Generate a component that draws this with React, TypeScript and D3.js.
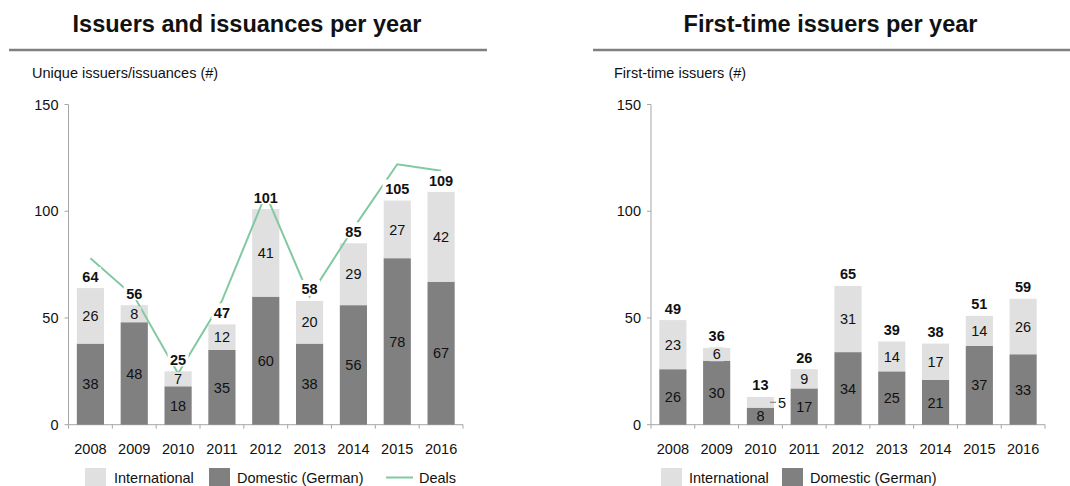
import React from 'react';
import * as d3 from 'd3';

const years = ['2008', '2009', '2010', '2011', '2012', '2013', '2014', '2015', '2016'];
const issuersDomestic = [38, 48, 18, 35, 60, 38, 56, 78, 67];
const issuersInternational = [26, 8, 7, 12, 41, 20, 29, 27, 42];
const deals = [78, 60, 24, 58, 108, 60, 92, 122, 119];
const firstDomestic = [26, 30, 8, 17, 34, 25, 21, 37, 33];
const firstInternational = [23, 6, 5, 9, 31, 14, 17, 14, 26];
const yTicks = [0, 50, 100, 150];

const FONT = '"Liberation Sans", Arial, Helvetica, sans-serif';
const LIGHT = '#e0e0e0';
const DARK = '#808080';
const GREEN = '#82c9a2';
const AXIS = '#a6a6a6';
const TEXT = '#111';

type PanelProps = {
  x0: number;
  x1: number;
  domestic: number[];
  international: number[];
  line?: number[];
};

function Panel({ x0, x1, domestic, international, line }: PanelProps) {
  const x = d3.scaleBand<string>().domain(years).range([x0, x1]).paddingInner(0.38).paddingOuter(0.19);
  const y = d3.scaleLinear().domain([0, 150]).range([424.7, 104.5]);
  const step = x.step();
  const bw = x.bandwidth();
  const cx = (i: number) => (x(years[i]) as number) + bw / 2;
  const lineGen = d3
    .line<number>()
    .x((_, i) => cx(i))
    .y((d) => y(d));

  return (
    <g fontFamily={FONT}>
      {/* axes */}
      <line x1={x0} x2={x0} y1={y(0)} y2={y(150)} stroke={AXIS} strokeWidth={1} />
      {yTicks.map((t) => (
        <g key={t}>
          <line x1={x0 - 4} x2={x0} y1={y(t)} y2={y(t)} stroke={AXIS} />
          <text x={x0 - 10} y={y(t)} dy="0.36em" textAnchor="end" fontSize={14.5} fill={TEXT}>
            {t}
          </text>
        </g>
      ))}
      <line x1={x0} x2={x1} y1={y(0)} y2={y(0)} stroke={AXIS} />
      {d3.range(years.length + 1).map((i) => (
        <line key={i} x1={x0 + i * step} x2={x0 + i * step} y1={y(0)} y2={y(0) + 4} stroke={AXIS} />
      ))}
      {years.map((yr, i) => (
        <text key={yr} x={cx(i)} y={453.5} textAnchor="middle" fontSize={14.5} fill={TEXT}>
          {yr}
        </text>
      ))}
      {/* bars */}
      {years.map((yr, i) => {
        const d = domestic[i];
        const t = d + international[i];
        return (
          <g key={yr}>
            <rect x={x(yr)} width={bw} y={y(d)} height={y(0) - y(d)} fill={DARK} />
            <rect x={x(yr)} width={bw} y={y(t)} height={y(d) - y(t)} fill={LIGHT} />
          </g>
        );
      })}
      {line && <path d={lineGen(line) || ''} fill="none" stroke={GREEN} strokeWidth={2} />}
      {/* segment labels */}
      {years.map((yr, i) => {
        const d = domestic[i];
        const n = international[i];
        const t = d + n;
        const my = (y(d) + y(t)) / 2;
        const small = n <= 5;
        return (
          <g key={yr} fontSize={14.5} fill={TEXT}>
            <text x={cx(i)} y={(y(0) + y(d)) / 2} dy="0.36em" textAnchor="middle">
              {d}
            </text>
            {small ? (
              <g>
                <line x1={x(yr)! + bw - 4} x2={x(yr)! + bw + 2} y1={my} y2={my} stroke="#777" />
                <text x={x(yr)! + bw + 4} y={my} dy="0.36em" textAnchor="start">
                  {n}
                </text>
              </g>
            ) : (
              <g>
                <rect x={cx(i) - 7} y={my - 7} width={14} height={14} fill={LIGHT} />
                <text x={cx(i)} y={my} dy="0.36em" textAnchor="middle">
                  {n}
                </text>
              </g>
            )}
            <rect
              x={cx(i) - (String(t).length * 8.5) / 2 - 2}
              y={y(t) - 21}
              width={String(t).length * 8.5 + 4}
              height={16}
              fill="#fff"
            />
            <text x={cx(i)} y={y(t) - 6.5} textAnchor="middle" fontWeight="bold">
              {t}
            </text>
          </g>
        );
      })}
    </g>
  );
}

export default function App() {
  return (
    <svg
      width={1070}
      height={486}
      style={{ position: 'absolute', left: 0, top: 0, background: '#fff' }}
      fontFamily={FONT}
    >
      <rect width={1070} height={486} fill="#fff" />
      {/* Left panel header */}
      <text x={247} y={31.5} textAnchor="middle" fontSize={23.5} fontWeight="bold" fill={TEXT}>
        Issuers and issuances per year
      </text>
      <line x1={9} x2={487} y1={50} y2={50} stroke="#808080" strokeWidth={2.5} />
      <text x={32} y={77.5} fontSize={14.5} fill={TEXT}>
        Unique issuers/issuances (#)
      </text>
      <Panel x0={68.5} x1={463} domestic={issuersDomestic} international={issuersInternational} line={deals} />
      {/* Left legend */}
      <rect x={85} y={468} width={21} height={21} fill={LIGHT} />
      <text x={114} y={483} fontSize={14.5} fill={TEXT}>International</text>
      <rect x={209} y={468} width={21} height={21} fill={DARK} />
      <text x={237} y={483} fontSize={14.5} fill={TEXT}>Domestic (German)</text>
      <line x1={386} x2={413} y1={477.5} y2={477.5} stroke={GREEN} strokeWidth={2} />
      <text x={419} y={483} fontSize={14.5} fill={TEXT}>Deals</text>

      {/* Right panel header */}
      <text x={830.5} y={31.5} textAnchor="middle" fontSize={23.5} fontWeight="bold" fill={TEXT}>
        First-time issuers per year
      </text>
      <line x1={593} x2={1070} y1={50} y2={50} stroke="#808080" strokeWidth={2.5} />
      <text x={614} y={77.5} fontSize={14.5} fill={TEXT}>
        First-time issuers (#)
      </text>
      <Panel x0={651} x1={1045} domestic={firstDomestic} international={firstInternational} />
      {/* Right legend */}
      <rect x={661} y={468} width={21} height={21} fill={LIGHT} />
      <text x={689} y={483} fontSize={14.5} fill={TEXT}>International</text>
      <rect x={782} y={468} width={21} height={21} fill={DARK} />
      <text x={810} y={483} fontSize={14.5} fill={TEXT}>Domestic (German)</text>
    </svg>
  );
}
